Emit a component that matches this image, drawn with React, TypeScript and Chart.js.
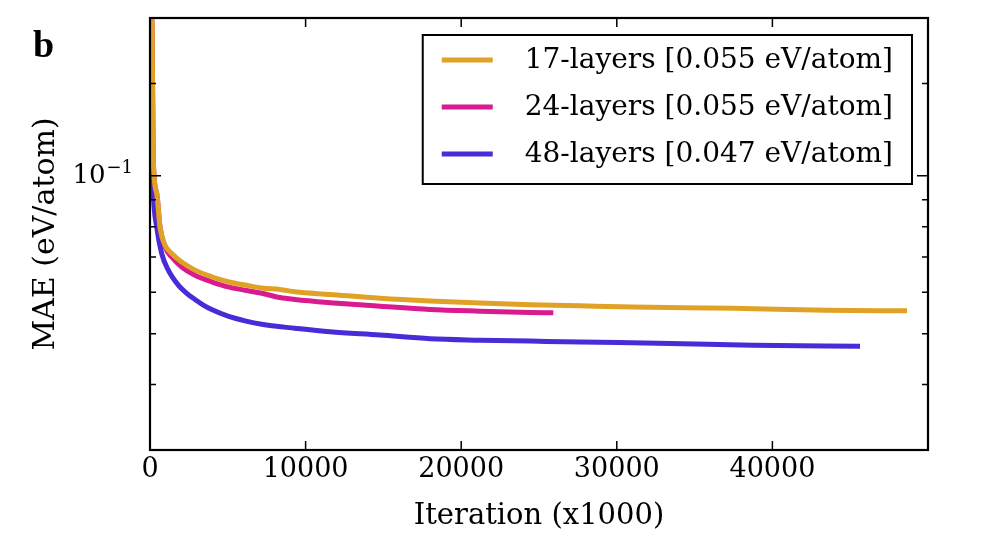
import { useEffect, useRef } from 'react';
import { Chart, registerables } from 'chart.js';

Chart.register(...registerables);

const seriesLabels = ['17-layers [0.055 eV/atom]', '24-layers [0.055 eV/atom]', '48-layers [0.047 eV/atom]'];
const seriesColors = ['#E0A226', '#D81B8E', '#4A2BD8'];

const iter17 = [0, 129, 212, 430, 643, 964, 1395, 2037, 2892, 3966, 5013, 6106, 7179, 8355, 9319, 11569, 14782, 17996, 21209, 24423, 27637, 31043, 37470, 43511, 48650];
const mae17 = [0.3, 0.2, 0.1072, 0.0927, 0.0799, 0.0738, 0.0711, 0.0685, 0.0661, 0.0642, 0.0628, 0.0619, 0.0611, 0.0607, 0.0601, 0.0594, 0.0584, 0.0577, 0.0572, 0.0568, 0.0565, 0.0562, 0.0559, 0.0554, 0.0553];

const iter24 = [0, 129, 212, 430, 643, 964, 1395, 2037, 2892, 3966, 5013, 6106, 7179, 8355, 9319, 11569, 14782, 17996, 21209, 24423, 25920];
const mae24 = [0.3, 0.2, 0.1072, 0.0927, 0.0799, 0.0732, 0.07, 0.067, 0.0646, 0.0628, 0.0614, 0.0605, 0.0597, 0.0586, 0.0581, 0.0573, 0.0564, 0.0556, 0.0552, 0.0549, 0.0548];

const iter48 = [0, 64, 160, 212, 430, 752, 1176, 1819, 2360, 2892, 3427, 3966, 5013, 6106, 7179, 9319, 11569, 14782, 17996, 21209, 24423, 27637, 33420, 38755, 45630];
const mae48 = [0.3, 0.2, 0.1048, 0.0925, 0.0799, 0.0711, 0.0661, 0.0619, 0.0597, 0.0581, 0.0567, 0.0556, 0.054, 0.0529, 0.0521, 0.0512, 0.0504, 0.0497, 0.0489, 0.0486, 0.0484, 0.0482, 0.0479, 0.0475, 0.0473];

const xTickStep = 10000;
const xMin = 0;
const xMax = 50000;
const yMin = 0.03;
const yMax = 0.2;
const yLabelValue = 0.1;
const yLabelBase = '10';
const yLabelExp = '\u22121';
const xTitle = 'Iteration (x1000)';
const yTitle = 'MAE (eV/atom)';
const panelLetter = 'b';

const SERIF = '"DejaVu Serif", serif';

function toPoints(xs: number[], ys: number[]) {
  return xs.map((x, i) => ({ x, y: ys[i] }));
}

const framePlugin = {
  id: 'frameTicksLegend',
  afterDraw(chart: any) {
    const { ctx, chartArea } = chart;
    const { left, right, top, bottom } = chartArea;
    ctx.save();
    ctx.strokeStyle = '#000';
    ctx.lineWidth = 1.5;
    // inside ticks, x
    const xs = chart.scales.x;
    xs.ticks.forEach((t: any) => {
      const px = xs.getPixelForValue(t.value);
      if (px <= left + 1 || px >= right - 1) return;
      ctx.beginPath();
      ctx.moveTo(px, bottom);
      ctx.lineTo(px, bottom - 9);
      ctx.moveTo(px, top);
      ctx.lineTo(px, top + 9);
      ctx.stroke();
    });
    // inside ticks, y
    const ys = chart.scales.y;
    ys.ticks.forEach((t: any) => {
      const py = ys.getPixelForValue(t.value);
      if (py <= top + 1 || py >= bottom - 1) return;
      const major = Math.abs(t.value - yLabelValue) < 1e-9;
      const len = major ? 11 : 6;
      ctx.beginPath();
      ctx.moveTo(left, py);
      ctx.lineTo(left + len, py);
      ctx.moveTo(right, py);
      ctx.lineTo(right - len, py);
      ctx.stroke();
      if (major) {
        ctx.fillStyle = '#000';
        ctx.textBaseline = 'alphabetic';
        ctx.textAlign = 'left';
        ctx.font = '18px ' + SERIF;
        const expW = ctx.measureText(yLabelExp).width;
        ctx.font = '26px ' + SERIF;
        const baseW = ctx.measureText(yLabelBase).width;
        const expX = left - 17 - expW;
        const baseX = expX - 1 - baseW;
        ctx.fillText(yLabelBase, baseX, py + 7);
        ctx.font = '18px ' + SERIF;
        ctx.fillText(yLabelExp, expX, py - 3);
      }
    });
    // frame
    ctx.lineWidth = 2.2;
    ctx.strokeRect(left, top, right - left, bottom - top);

    // legend
    ctx.font = '28px ' + SERIF;
    const labels = chart.data.datasets.map((d: any) => d.label as string);
    const textW = Math.max(...labels.map((l: string) => ctx.measureText(l).width));
    const padL = 19, lineLen = 51, gap = 32, padR = 19;
    const lRight = right - 16;
    const lLeft = lRight - (padL + lineLen + gap + textW + padR);
    const lTop = top + 17;
    const lBottom = lTop + 149;
    ctx.fillStyle = '#fff';
    ctx.fillRect(lLeft, lTop, lRight - lLeft, lBottom - lTop);
    ctx.lineWidth = 2;
    ctx.strokeStyle = '#000';
    ctx.strokeRect(lLeft, lTop, lRight - lLeft, lBottom - lTop);
    chart.data.datasets.forEach((d: any, i: number) => {
      const ry = lTop + 25 + i * 47;
      ctx.strokeStyle = d.borderColor;
      ctx.lineWidth = 5;
      ctx.beginPath();
      ctx.moveTo(lLeft + padL, ry);
      ctx.lineTo(lLeft + padL + lineLen, ry);
      ctx.stroke();
      ctx.fillStyle = '#000';
      ctx.textBaseline = 'middle';
      ctx.textAlign = 'left';
      ctx.fillText(d.label, lLeft + padL + lineLen + gap, ry + 1);
    });

    // panel letter
    ctx.font = 'bold 38px "Liberation Serif", serif';
    ctx.textBaseline = 'alphabetic';
    ctx.textAlign = 'left';
    ctx.fillStyle = '#000';
    ctx.fillText(panelLetter, 33, 57);
    ctx.restore();
  },
};

export default function App() {
  const ref = useRef<HTMLCanvasElement | null>(null);
  useEffect(() => {
    if (!ref.current) return;
    const datasets = [
      { label: seriesLabels[0], data: toPoints(iter17, mae17), borderColor: seriesColors[0] },
      { label: seriesLabels[1], data: toPoints(iter24, mae24), borderColor: seriesColors[1] },
      { label: seriesLabels[2], data: toPoints(iter48, mae48), borderColor: seriesColors[2] },
    ].map((d) => ({
      ...d,
      backgroundColor: d.borderColor,
      borderWidth: 5,
      pointRadius: 0,
      fill: false,
      cubicInterpolationMode: 'monotone' as const,
    }));
    const chart = new Chart(ref.current, {
      type: 'line',
      data: { datasets },
      options: {
        animation: false,
        responsive: false,
        maintainAspectRatio: false,
        layout: { padding: { top: 18, right: 54, left: 0, bottom: 0 } },
        plugins: {
          legend: { display: false },
          tooltip: { enabled: false },
        },
        scales: {
          x: {
            type: 'linear',
            min: xMin,
            max: xMax,
            grid: { display: false, drawTicks: false },
            border: { display: false },
            ticks: {
              stepSize: xTickStep,
              color: '#000',
              font: { family: SERIF, size: 27 },
              padding: 4,
              maxRotation: 0,
              autoSkip: false,
              callback: (v: any) => (v === xMax ? '' : String(v)),
            },
            title: {
              display: true,
              text: xTitle,
              color: '#000',
              font: { family: SERIF, size: 29 },
              padding: { top: 0, bottom: 17 },
            },
            afterFit: (s: any) => {
              s.height = 101;
              s.paddingLeft = 0;
              s.paddingRight = 0;
            },
          },
          y: {
            type: 'logarithmic',
            min: yMin,
            max: yMax,
            grid: { display: false, drawTicks: false },
            border: { display: false },
            ticks: {
              color: '#000',
              font: { family: SERIF, size: 24 },
              padding: 17,
              autoSkip: false,
              callback: () => '',
            },
            title: {
              display: true,
              text: yTitle,
              color: '#000',
              font: { family: SERIF, size: 30 },
              padding: { top: 28, bottom: 0 },
            },
            afterFit: (s: any) => {
              s.width = 150;
              s.paddingTop = 0;
              s.paddingBottom = 0;
            },
          },
        },
      },
      plugins: [framePlugin],
    });
    return () => chart.destroy();
  }, []);
  return (
    <div style={{ position: 'absolute', left: 0, top: 0, width: 982, height: 551, background: '#fff' }}>
      <canvas ref={ref} width={982} height={551} />
    </div>
  );
}
